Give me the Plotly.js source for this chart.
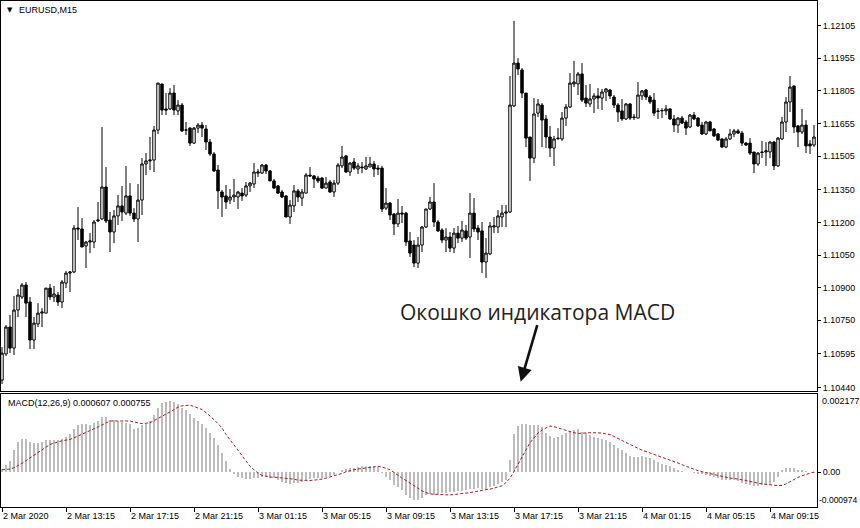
<!DOCTYPE html>
<html>
<head>
<meta charset="utf-8">
<script src="https://cdn.plot.ly/plotly-3.0.1.min.js"></script>
<style>
html,body{margin:0;padding:0;background:#fff;}
#chart{width:860px;height:528px;}
</style>
</head>
<body>
<div id="chart"></div>
<script>
// ---- EURUSD M15 candles (bar index 0 = 2 Mar 2020 09:15) ----
const OPEN = [
1.10475,1.10595,1.10719,1.10622,1.10797,1.10857,1.10912,1.10834,1.10659,1.10733,
1.10783,1.10783,1.10898,1.10857,1.10866,1.10834,1.10921,1.10967,1.10972,1.11174,
1.11170,1.11092,1.11110,1.11110,1.11207,1.11216,1.11363,1.11211,1.11156,1.11230,
1.11276,1.11243,1.11322,1.11243,1.11216,1.11303,1.11469,1.11483,1.11487,1.11625,
1.11837,1.11722,1.11722,1.11795,1.11713,1.11740,1.11625,1.11634,1.11565,1.11634,
1.11648,1.11630,1.11570,1.11515,1.11441,1.11340,1.11322,1.11303,1.11317,1.11317,
1.11335,1.11326,1.11368,1.11377,1.11427,1.11427,1.11464,1.11437,1.11391,1.11368,
1.11340,1.11322,1.11225,1.11276,1.11345,1.11312,1.11335,1.11418,1.11414,1.11404,
1.11404,1.11358,1.11386,1.11340,1.11381,1.11460,1.11506,1.11432,1.11478,1.11446,
1.11455,1.11446,1.11455,1.11469,1.11450,1.11450,1.11266,1.11289,1.11239,1.11193,
1.11243,1.11243,1.11115,1.11096,1.11013,1.11096,1.11179,1.11262,1.11294,1.11202,
1.11165,1.11119,1.11133,1.11082,1.11151,1.11128,1.11161,1.11133,1.11243,1.11174,
1.11161,1.11018,1.11055,1.11179,1.11179,1.11225,1.11243,1.11248,1.11736,1.11933,
1.11901,1.11795,1.11593,1.11496,1.11703,1.11740,1.11676,1.11593,1.11542,1.11588,
1.11584,1.11680,1.11731,1.11837,1.11837,1.11883,1.11772,1.11745,1.11768,1.11782,
1.11772,1.11800,1.11809,1.11777,1.11740,1.11713,1.11676,1.11745,1.11685,1.11680,
1.11782,1.11809,1.11777,1.11763,1.11713,1.11713,1.11713,1.11722,1.11676,1.11648,
1.11680,1.11662,1.11639,1.11694,1.11680,1.11648,1.11607,1.11662,1.11630,1.11607,
1.11584,1.11547,1.11584,1.11607,1.11621,1.11611,1.11565,1.11565,1.11524,1.11469,
1.11524,1.11524,1.11524,1.11570,1.11460,1.11584,1.11662,1.11754,1.11828,1.11644,
1.11616,1.11648,1.11561,1.11556];
const HIGH = [
1.10627,1.10728,1.10774,1.10862,1.10894,1.10921,1.10926,1.10857,1.10765,1.10829,
1.10806,1.10898,1.10917,1.10908,1.10880,1.10935,1.10977,1.10977,1.11188,1.11271,
1.11220,1.11115,1.11151,1.11211,1.11294,1.11639,1.11455,1.11248,1.11257,1.11326,
1.11368,1.11460,1.11381,1.11266,1.11377,1.11496,1.11519,1.11593,1.11644,1.11841,
1.11837,1.11795,1.11818,1.11832,1.11763,1.11749,1.11662,1.11639,1.11639,1.11657,
1.11662,1.11648,1.11584,1.11524,1.11464,1.11349,1.11372,1.11354,1.11400,1.11345,
1.11358,1.11386,1.11386,1.11473,1.11446,1.11469,1.11469,1.11441,1.11400,1.11372,
1.11349,1.11326,1.11303,1.11372,1.11354,1.11354,1.11427,1.11455,1.11418,1.11414,
1.11409,1.11409,1.11395,1.11395,1.11473,1.11552,1.11510,1.11478,1.11496,1.11473,
1.11478,1.11501,1.11501,1.11483,1.11464,1.11460,1.11358,1.11294,1.11243,1.11308,
1.11276,1.11248,1.11156,1.11119,1.11133,1.11184,1.11262,1.11317,1.11381,1.11211,
1.11174,1.11174,1.11156,1.11174,1.11184,1.11207,1.11188,1.11335,1.11312,1.11188,
1.11202,1.11128,1.11202,1.11225,1.11257,1.11280,1.11280,1.11874,1.12127,1.11956,
1.11910,1.11795,1.11593,1.11772,1.11768,1.11749,1.11694,1.11644,1.11598,1.11634,
1.11708,1.11745,1.11887,1.11943,1.11892,1.11933,1.11832,1.11837,1.11795,1.11818,
1.11814,1.11818,1.11814,1.11786,1.11749,1.11768,1.11749,1.11749,1.11699,1.11846,
1.11809,1.11814,1.11786,1.11795,1.11726,1.11726,1.11740,1.11726,1.11694,1.11685,
1.11690,1.11671,1.11699,1.11708,1.11685,1.11662,1.11667,1.11667,1.11634,1.11611,
1.11588,1.11593,1.11630,1.11630,1.11630,1.11621,1.11570,1.11588,1.11524,1.11524,
1.11575,1.11570,1.11575,1.11575,1.11593,1.11685,1.11777,1.11874,1.11828,1.11648,
1.11722,1.11671,1.11579,1.11648];
const LOW = [
1.10457,1.10586,1.10599,1.10590,1.10765,1.10848,1.10765,1.10618,1.10618,1.10719,
1.10719,1.10783,1.10843,1.10834,1.10816,1.10806,1.10898,1.10880,1.10967,1.11119,
1.11087,1.10990,1.11059,1.11082,1.11202,1.11211,1.11197,1.11064,1.11105,1.11188,
1.11207,1.11234,1.11230,1.11202,1.11110,1.11234,1.11418,1.11441,1.11432,1.11607,
1.11694,1.11694,1.11717,1.11694,1.11694,1.11616,1.11602,1.11552,1.11561,1.11611,
1.11593,1.11533,1.11506,1.11432,1.11262,1.11225,1.11262,1.11285,1.11294,1.11262,
1.11299,1.11317,1.11340,1.11358,1.11409,1.11423,1.11423,1.11391,1.11354,1.11331,
1.11312,1.11225,1.11193,1.11248,1.11294,1.11276,1.11335,1.11409,1.11358,1.11381,
1.11354,1.11358,1.11335,1.11317,1.11372,1.11450,1.11427,1.11414,1.11441,1.11423,
1.11427,1.11441,1.11455,1.11409,1.11418,1.11248,1.11257,1.11211,1.11142,1.11179,
1.11197,1.11092,1.11041,1.10995,1.10990,1.11064,1.11174,1.11257,1.11179,1.11156,
1.11105,1.11064,1.11064,1.11059,1.11105,1.11110,1.11119,1.11036,1.11156,1.11119,
1.10967,1.10944,1.11050,1.11151,1.11151,1.11179,1.11179,1.11243,1.11731,1.11878,
1.11772,1.11547,1.11391,1.11473,1.11685,1.11547,1.11542,1.11501,1.11460,1.11579,
1.11575,1.11644,1.11726,1.11823,1.11786,1.11754,1.11731,1.11731,1.11703,1.11722,
1.11717,1.11759,1.11768,1.11726,1.11662,1.11667,1.11671,1.11671,1.11671,1.11680,
1.11763,1.11763,1.11745,1.11690,1.11676,1.11680,1.11694,1.11671,1.11616,1.11611,
1.11653,1.11602,1.11634,1.11671,1.11639,1.11602,1.11602,1.11621,1.11593,1.11575,
1.11542,1.11542,1.11579,1.11593,1.11607,1.11552,1.11552,1.11510,1.11427,1.11460,
1.11496,1.11460,1.11496,1.11441,1.11455,1.11579,1.11616,1.11708,1.11611,1.11547,
1.11607,1.11519,1.11515,1.11547];
const CLOSE = [
1.10599,1.10719,1.10622,1.10797,1.10866,1.10912,1.10829,1.10659,1.10737,1.10783,
1.10788,1.10898,1.10857,1.10871,1.10834,1.10926,1.10967,1.10972,1.11174,1.11170,
1.11087,1.11110,1.11115,1.11202,1.11211,1.11363,1.11207,1.11156,1.11230,1.11276,
1.11248,1.11322,1.11243,1.11216,1.11303,1.11469,1.11483,1.11487,1.11625,1.11841,
1.11717,1.11717,1.11795,1.11717,1.11740,1.11621,1.11625,1.11565,1.11634,1.11648,
1.11634,1.11570,1.11515,1.11437,1.11345,1.11317,1.11294,1.11317,1.11326,1.11340,
1.11322,1.11368,1.11381,1.11432,1.11432,1.11464,1.11437,1.11391,1.11358,1.11335,
1.11317,1.11225,1.11280,1.11345,1.11317,1.11340,1.11418,1.11414,1.11400,1.11391,
1.11358,1.11381,1.11340,1.11381,1.11464,1.11501,1.11432,1.11473,1.11450,1.11460,
1.11452,1.11460,1.11469,1.11446,1.11446,1.11262,1.11289,1.11234,1.11193,1.11243,
1.11239,1.11110,1.11059,1.11013,1.11096,1.11179,1.11262,1.11294,1.11202,1.11161,
1.11119,1.11133,1.11082,1.11151,1.11128,1.11165,1.11128,1.11243,1.11170,1.11156,
1.11018,1.11059,1.11184,1.11184,1.11230,1.11243,1.11248,1.11740,1.11933,1.11906,
1.11795,1.11588,1.11496,1.11699,1.11745,1.11671,1.11593,1.11542,1.11584,1.11586,
1.11680,1.11731,1.11841,1.11846,1.11883,1.11763,1.11749,1.11768,1.11782,1.11772,
1.11800,1.11814,1.11782,1.11740,1.11708,1.11676,1.11745,1.11680,1.11683,1.11786,
1.11805,1.11777,1.11754,1.11703,1.11711,1.11715,1.11722,1.11676,1.11648,1.11680,
1.11657,1.11634,1.11694,1.11676,1.11644,1.11607,1.11662,1.11621,1.11598,1.11579,
1.11547,1.11584,1.11607,1.11621,1.11611,1.11565,1.11556,1.11519,1.11469,1.11519,
1.11522,1.11529,1.11570,1.11460,1.11588,1.11662,1.11754,1.11823,1.11639,1.11616,
1.11648,1.11552,1.11552,1.11593];

// ---- MACD(12,26,9): main (histogram) and signal ----
const MACD_MAIN = [
0.000084,0.000206,0.000300,0.000628,0.000835,0.000910,0.000910,0.000835,0.000797,0.000816,
0.000835,0.000881,0.000891,0.000881,0.000891,0.000928,0.000985,0.001050,0.001191,0.001303,
0.001332,0.001332,0.001322,0.001378,0.001416,0.001547,0.001528,0.001453,0.001444,0.001425,
0.001407,0.001378,0.001350,0.001210,0.001238,0.001303,0.001350,0.001425,0.001585,0.001800,
0.001922,0.001960,0.001969,0.001941,0.001894,0.001800,0.001735,0.001613,0.001519,0.001425,
0.001332,0.001238,0.001097,0.000956,0.000769,0.000534,0.000300,0.000084,-0.000047,-0.000141,
-0.000169,-0.000188,-0.000197,-0.000178,-0.000159,-0.000141,-0.000141,-0.000159,-0.000178,-0.000216,
-0.000263,-0.000309,-0.000328,-0.000309,-0.000291,-0.000272,-0.000234,-0.000197,-0.000178,-0.000178,
-0.000159,-0.000141,-0.000122,-0.000075,-0.000009,0.000066,0.000084,0.000103,0.000122,0.000141,
0.000159,0.000178,0.000178,0.000159,0.000141,-0.000028,-0.000141,-0.000234,-0.000356,-0.000403,
-0.000497,-0.000638,-0.000731,-0.000778,-0.000778,-0.000731,-0.000638,-0.000610,-0.000638,-0.000610,
-0.000591,-0.000572,-0.000553,-0.000544,-0.000534,-0.000516,-0.000497,-0.000478,-0.000459,-0.000450,
-0.000459,-0.000478,-0.000422,-0.000384,-0.000328,-0.000272,-0.000216,0.000347,0.001050,0.001285,
0.001350,0.001341,0.001303,0.001303,0.001322,0.001266,0.001078,0.001003,0.000956,0.000975,
0.001022,0.001097,0.001135,0.001172,0.001191,0.001116,0.001078,0.001031,0.000985,0.000947,
0.000928,0.000891,0.000835,0.000760,0.000675,0.000610,0.000534,0.000459,0.000413,0.000413,
0.000441,0.000413,0.000394,0.000328,0.000272,0.000234,0.000197,0.000159,0.000113,0.000066,
0.000038,0.000009,-0.000009,-0.000028,-0.000047,-0.000066,-0.000084,-0.000103,-0.000141,-0.000178,
-0.000216,-0.000234,-0.000234,-0.000234,-0.000253,-0.000291,-0.000328,-0.000356,-0.000384,-0.000384,
-0.000366,-0.000356,-0.000328,-0.000263,-0.000141,0.000066,0.000103,0.000113,0.000103,0.000066,
0.000047,0.000028,0.000009,-0.000028];
const MACD_SIGNAL = [
0.000066,0.000075,0.000084,0.000122,0.000178,0.000244,0.000319,0.000394,0.000469,0.000544,
0.000619,0.000694,0.000769,0.000806,0.000844,0.000872,0.000891,0.000910,0.000956,0.001003,
0.001050,0.001097,0.001144,0.001200,0.001257,0.001313,0.001369,0.001425,0.001425,0.001425,
0.001425,0.001425,0.001425,0.001397,0.001369,0.001350,0.001360,0.001378,0.001435,0.001491,
0.001547,0.001613,0.001678,0.001744,0.001810,0.001847,0.001857,0.001866,0.001829,0.001791,
0.001744,0.001660,0.001566,0.001463,0.001350,0.001228,0.001050,0.000910,0.000760,0.000610,
0.000459,0.000309,0.000159,0.000066,-0.000028,-0.000094,-0.000122,-0.000141,-0.000141,-0.000150,
-0.000159,-0.000159,-0.000169,-0.000197,-0.000225,-0.000234,-0.000234,-0.000234,-0.000225,-0.000216,
-0.000197,-0.000169,-0.000141,-0.000103,-0.000075,-0.000038,0.000009,0.000047,0.000066,0.000084,
0.000103,0.000122,0.000141,0.000150,0.000159,0.000141,0.000103,0.000066,-0.000009,-0.000094,
-0.000169,-0.000234,-0.000309,-0.000384,-0.000459,-0.000525,-0.000572,-0.000610,-0.000619,-0.000628,
-0.000638,-0.000638,-0.000638,-0.000628,-0.000619,-0.000610,-0.000591,-0.000572,-0.000553,-0.000525,
-0.000506,-0.000488,-0.000478,-0.000450,-0.000422,-0.000384,-0.000291,-0.000169,0.000019,0.000206,
0.000413,0.000619,0.000816,0.000947,0.001088,0.001172,0.001228,0.001285,0.001266,0.001228,
0.001191,0.001153,0.001116,0.001097,0.001078,0.001088,0.001097,0.001097,0.001097,0.001097,
0.001088,0.001060,0.001050,0.000994,0.000928,0.000881,0.000825,0.000769,0.000713,0.000656,
0.000610,0.000572,0.000534,0.000497,0.000459,0.000422,0.000384,0.000347,0.000300,0.000253,
0.000206,0.000159,0.000113,0.000075,0.000038,0.000009,-0.000019,-0.000047,-0.000075,-0.000103,
-0.000131,-0.000150,-0.000169,-0.000178,-0.000188,-0.000216,-0.000234,-0.000263,-0.000281,-0.000309,
-0.000328,-0.000347,-0.000356,-0.000366,-0.000375,-0.000375,-0.000328,-0.000263,-0.000216,-0.000150,
-0.000103,-0.000066,-0.000028,0.000000];

// ---- axis labels ----
const TIME_TICK_BARS = [0,16,32,48,64,80,96,112,128,144,160,176,192];
const TIME_TICK_LABELS = ["2 Mar 2020","2 Mar 13:15","2 Mar 17:15","2 Mar 21:15","3 Mar 01:15","3 Mar 05:15",
  "3 Mar 09:15","3 Mar 13:15","3 Mar 17:15","3 Mar 21:15","4 Mar 01:15","4 Mar 05:15","4 Mar 09:15"];
const PRICE_TICKS = [1.12105,1.11955,1.11805,1.11655,1.11505,1.11350,1.11200,1.11050,1.10900,1.10750,1.10595,1.10440];
const PRICE_TICK_LABELS = ["1.12105","1.11955","1.11805","1.11655","1.11505","1.11350","1.11200","1.11050","1.10900","1.10750","1.10595","1.10440"];
const MACD_MAX = 0.002177, MACD_MIN = -0.000974;
const MACD_MAX_LABEL = "0.002177", MACD_MIN_LABEL = "-0.000974", MACD_ZERO_LABEL = "0.00";
const SYMBOL_LABEL = "EURUSD,M15";
const MACD_LABEL = "MACD(12,26,9) 0.000607 0.000755";
const CAPTION = "Окошко индикатора MACD";

const idx = OPEN.map((_, i) => i);
const SMALL = {family: "Liberation Sans, Arial, sans-serif", size: 9, color: "#000"};

const traces = [
  {
    type: "candlestick", x: idx, open: OPEN, high: HIGH, low: LOW, close: CLOSE,
    xaxis: "x2", yaxis: "y",
    increasing: {line: {color: "#000", width: 1}, fillcolor: "#fff"},
    decreasing: {line: {color: "#000", width: 1}, fillcolor: "#000"},
    whiskerwidth: 0, hoverinfo: "skip", showlegend: false
  },
  {
    type: "bar", x: idx, y: MACD_MAIN, xaxis: "x", yaxis: "y2",
    marker: {color: "#bcbcbc", line: {width: 0}}, width: 0.26,
    hoverinfo: "skip", showlegend: false
  },
  {
    type: "scatter", mode: "lines", x: idx, y: MACD_SIGNAL, xaxis: "x", yaxis: "y2",
    line: {color: "#a42020", width: 1, dash: "3px,2px"},
    hoverinfo: "skip", showlegend: false
  }
];

const layout = {
  width: 860, height: 528,
  margin: {l: 1, r: 43, t: 1, b: 21, pad: 0},
  paper_bgcolor: "#fff", plot_bgcolor: "#fff",
  font: SMALL,
  showlegend: false,
  bargap: 0,
  boxgap: 0.12,
  xaxis: {
    domain: [0, 1], anchor: "y2", range: [-0.25, 203.75],
    tickmode: "array", tickvals: TIME_TICK_BARS, ticktext: TIME_TICK_LABELS,
    ticks: "outside", ticklen: 4, tickcolor: "#000", tickwidth: 1,
    ticklabelposition: "outside right",
    showline: true, linecolor: "#000", linewidth: 1, mirror: true,
    showgrid: false, zeroline: false, rangeslider: {visible: false},
    tickfont: SMALL
  },
  xaxis2: {
    domain: [0, 1], anchor: "y", matches: "x", range: [-0.25, 203.75],
    showticklabels: false, ticks: "",
    showline: true, linecolor: "#000", linewidth: 1, mirror: true,
    showgrid: false, zeroline: false, rangeslider: {visible: false}
  },
  yaxis: {
    domain: [0.2292, 1], anchor: "x2", side: "right",
    range: [1.104246, 1.122186],
    tickmode: "array", tickvals: PRICE_TICKS, ticktext: PRICE_TICK_LABELS,
    ticks: "outside", ticklen: 3, tickcolor: "#000",
    showline: true, linecolor: "#000", linewidth: 1, mirror: true,
    showgrid: false, zeroline: false, tickfont: SMALL
  },
  yaxis2: {
    domain: [0, 0.2233], anchor: "x", side: "right",
    range: [MACD_MIN, MACD_MAX],
    tickmode: "array", tickvals: [0], ticktext: [MACD_ZERO_LABEL],
    ticks: "outside", ticklen: 3, tickcolor: "#000",
    showline: true, linecolor: "#000", linewidth: 1, mirror: true,
    showgrid: false, zeroline: false, tickfont: SMALL
  },
  annotations: [
    {xref: "paper", yref: "y2", x: 1, y: MACD_MAX, xanchor: "left", yanchor: "top",
     xshift: 3, text: MACD_MAX_LABEL, showarrow: false, font: SMALL},
    {xref: "paper", yref: "y2", x: 1, y: MACD_MIN, xanchor: "left", yanchor: "bottom",
     xshift: 0, text: MACD_MIN_LABEL, showarrow: false,
     font: {family: "Liberation Sans, Arial, sans-serif", size: 8.5, color: "#000"}},
    {xref: "paper", yref: "paper", x: 0.0055, y: 0.982, xanchor: "left", yanchor: "middle",
     text: "▼", showarrow: false, font: {family: "DejaVu Sans", size: 7, color: "#000"}},
    {xref: "paper", yref: "paper", x: 0.0196, y: 0.982, xanchor: "left", yanchor: "middle",
     text: SYMBOL_LABEL, showarrow: false, font: SMALL},
    {xref: "paper", yref: "paper", x: 0.0061, y: 0.2055, xanchor: "left", yanchor: "middle",
     text: MACD_LABEL, showarrow: false, font: SMALL},
    {xref: "paper", yref: "paper", x: 0.6569, y: 0.3844, xanchor: "center", yanchor: "middle",
     text: CAPTION, showarrow: false, font: {family: "Open Sans, sans-serif", size: 21, color: "#222"}},
    {xref: "paper", yref: "paper", x: 0.6369, y: 0.2476, text: "", showarrow: true,
     ax: 17, ay: -58, arrowhead: 2, arrowsize: 1.1, arrowwidth: 2.6, arrowcolor: "#111", standoff: 0}
  ]
};

Plotly.newPlot("chart", traces, layout, {staticPlot: true, displayModeBar: false});
</script>
</body>
</html>
